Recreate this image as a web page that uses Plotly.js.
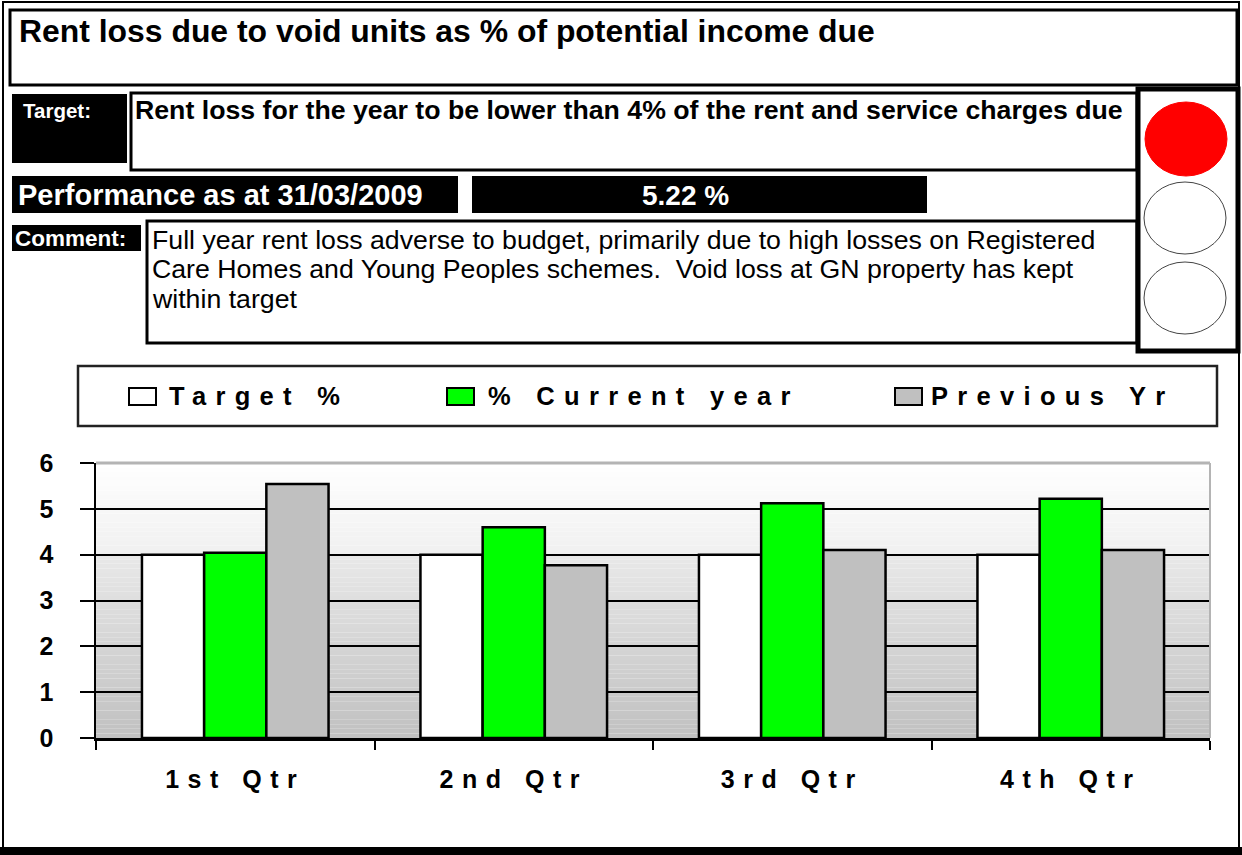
<!DOCTYPE html>
<html>
<head>
<meta charset="utf-8">
<script src="https://cdn.plot.ly/plotly-3.0.1.min.js"></script>
<style>
  html, body { margin: 0; padding: 0; background: #ffffff; }
  #chart { width: 1242px; height: 855px; }
  .xtick text { letter-spacing: 8.5px; }
</style>
</head>
<body>
<div id="chart"></div>
<script>
// ---- data ----
const quarters = ['1st Qtr', '2nd Qtr', '3rd Qtr', '4th Qtr'];
const targetPct = [4, 4, 4, 4];
const currentYear = [4.04, 4.6, 5.12, 5.22];
const previousYr = [5.54, 3.77, 4.1, 4.1];
const seriesNames = ['Target %', '% Current year', 'Previous Yr'];
const yTickVals = [0, 1, 2, 3, 4, 5, 6];
const titleText = 'Rent loss due to void units as % of potential income due';
const targetLabel = 'Target:';
const targetText = 'Rent loss for the year to be lower than 4% of the rent and service charges due';
const perfLabel = 'Performance as at 31/03/2009';
const perfValue = '5.22 %';
const commentLabel = 'Comment:';
const commentLines = [
  'Full year rent loss adverse to budget, primarily due to high losses on Registered',
  'Care Homes and Young Peoples schemes.  Void loss at GN property has kept',
  'within target'
];

// ---- layout helpers (pixel -> paper) ----
const W = 1242, H = 855;
const px = x => x / W;
const py = y => 1 - y / H;
const FONT = 'Arial, "Liberation Sans", sans-serif';
const colors = ['#ffffff', '#00ff00', '#c0c0c0'];

function rect(x0, y0, x1, y1, fill, lineColor, lineWidth) {
  return {
    type: 'rect', xref: 'paper', yref: 'paper', layer: 'above',
    x0: px(x0), x1: px(x1), y0: py(y1), y1: py(y0),
    fillcolor: fill || 'rgba(0,0,0,0)',
    line: { color: lineColor || 'rgba(0,0,0,0)', width: lineWidth || 0 }
  };
}
function ellipse(cx, cy, rx, ry, fill, lineColor, lineWidth) {
  return {
    type: 'circle', xref: 'paper', yref: 'paper', layer: 'above',
    x0: px(cx - rx), x1: px(cx + rx), y0: py(cy + ry), y1: py(cy - ry),
    fillcolor: fill, line: { color: lineColor, width: lineWidth }
  };
}
function label(text, x, y, size, color, bold, anchor) {
  return {
    text: text, xref: 'paper', yref: 'paper', x: px(x), y: py(y),
    xanchor: anchor || 'left', yanchor: 'middle', showarrow: false,
    borderpad: 0,
    font: { family: FONT, size: size, color: color || '#000000', weight: bold ? 'bold' : 'normal' }
  };
}
function spaced(text, ls) {
  return '<span style="letter-spacing:' + ls + 'px">' + text + '</span>';
}

const shapes = [];
const annotations = [];

// background gradient of plot area (style only)
const nBands = 60;
for (let i = 0; i < nBands; i++) {
  const y0 = 6 * i / nBands, y1 = 6 * (i + 1) / nBands;
  const ym = (y0 + y1) / 2;
  let c;
  if (ym >= 4) c = Math.round(240 + (ym - 4) / 2 * 15);
  else c = Math.round(192 + ym / 4 * 40);
  shapes.push({
    type: 'rect', xref: 'x domain', yref: 'y', layer: 'below',
    x0: 0, x1: 1, y0: y0, y1: y1,
    fillcolor: 'rgb(' + c + ',' + c + ',' + c + ')', line: { width: 0 }
  });
}
// light grey top and right border of plot area
shapes.push({ type: 'line', xref: 'x domain', yref: 'y domain', x0: 0, x1: 1, y0: 1, y1: 1,
  line: { color: '#b4b4b4', width: 3 }, layer: 'above' });
shapes.push({ type: 'line', xref: 'x domain', yref: 'y domain', x0: 1, x1: 1, y0: 0, y1: 1,
  line: { color: '#b4b4b4', width: 2 }, layer: 'above' });

// outer frame
shapes.push(rect(3, 2, 1239, 851, null, '#000000', 2));
shapes.push(rect(0, 847, 1242, 855, '#000000'));
// title box
shapes.push(rect(10, 10, 1237, 85, null, '#000000', 3));
annotations.push(label(titleText, 18, 31, 31.9, '#000000', true));
// target
shapes.push(rect(12, 94, 127, 163, '#000000'));
annotations.push(label(targetLabel, 22, 111, 20.5, '#ffffff', true));
shapes.push(rect(131, 93, 1137, 170, null, '#000000', 3));
annotations.push(label(targetText, 134, 110, 26.7, '#000000', true));
// performance
shapes.push(rect(12, 176, 458, 213, '#000000'));
annotations.push(label(perfLabel, 17, 195, 29, '#ffffff', true));
shapes.push(rect(472, 176, 927, 213, '#000000'));
annotations.push(label(perfValue, 685, 195, 28, '#ffffff', true, 'center'));
// comment
shapes.push(rect(12, 225, 141, 251, '#000000'));
annotations.push(label(commentLabel, 14, 238, 22.5, '#ffffff', true));
shapes.push(rect(147, 221, 1137, 343, null, '#000000', 3));
commentLines.forEach((t, i) => annotations.push(label(t, 151, 240 + i * 29.5, 26.7, '#000000', false)));
// traffic light
shapes.push(rect(1138, 89, 1238, 351, '#ffffff', '#000000', 5));
shapes.push(ellipse(1186, 139, 41, 37, '#ff0000', '#ff0000', 1));
shapes.push(ellipse(1185, 218, 41, 36, '#ffffff', '#444444', 1));
shapes.push(ellipse(1185, 298, 41, 36, '#ffffff', '#444444', 1));

// legend (custom box)
shapes.push(rect(78, 366, 1217, 426, '#ffffff', '#222222', 2.5));
const legSym = [129, 447, 895];
const legTxt = [168, 487, 930];
seriesNames.forEach((n, i) => {
  shapes.push(rect(legSym[i], 388, legSym[i] + 27, 405, colors[i], '#000000', 2));
  annotations.push(label(spaced(n, 9.3), legTxt[i], 396, 25.5, '#000000', true));
});

// ---- traces ----
const barLine = { color: '#000000', width: 2.5 };
const traces = [
  { type: 'bar', name: seriesNames[0], x: quarters, y: targetPct, marker: { color: colors[0], line: barLine }, showlegend: false },
  { type: 'bar', name: seriesNames[1], x: quarters, y: currentYear, marker: { color: colors[1], line: barLine }, showlegend: false },
  { type: 'bar', name: seriesNames[2], x: quarters, y: previousYr, marker: { color: colors[2], line: barLine }, showlegend: false }
];

const layout = {
  width: W, height: H,
  margin: { l: 0, r: 0, t: 0, b: 0, pad: 0 },
  paper_bgcolor: '#ffffff',
  plot_bgcolor: 'rgba(0,0,0,0)',
  barmode: 'group', bargap: 0.33, bargroupgap: 0,
  showlegend: false,
  xaxis: {
    domain: [px(96), px(1210)],
    type: 'category',
    showgrid: false, zeroline: false,
    showline: true, linecolor: '#000000', linewidth: 2.5,
    ticks: 'outside', tickson: 'boundaries', ticklen: 9, tickwidth: 2, tickcolor: '#000000',
    ticklabelstandoff: 17,
    tickfont: { family: FONT, size: 25, color: '#000000', weight: 'bold' }
  },
  yaxis: {
    domain: [py(738), py(463)],
    range: [0, 6], autorange: false,
    tickmode: 'array', tickvals: yTickVals,
    showgrid: true, gridcolor: '#000000', gridwidth: 2,
    zeroline: false,
    showline: true, linecolor: '#000000', linewidth: 2.5,
    ticks: 'outside', ticklen: 14, tickwidth: 2, tickcolor: '#000000',
    ticklabelstandoff: 21,
    tickfont: { family: FONT, size: 25, color: '#000000', weight: 'bold' }
  },
  shapes: shapes,
  annotations: annotations
};

Plotly.newPlot('chart', traces, layout, { displayModeBar: false, staticPlot: true });
</script>
</body>
</html>
